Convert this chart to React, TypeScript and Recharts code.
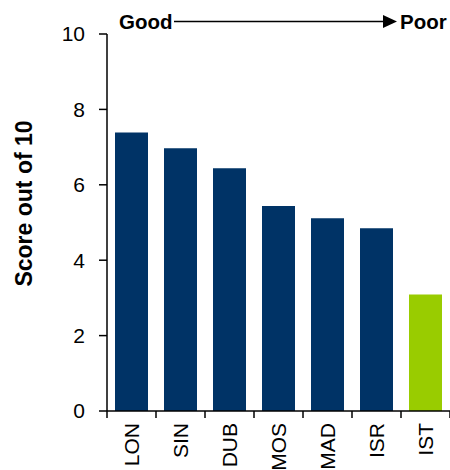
import React from "react";
import { BarChart, Bar, XAxis, YAxis, Cell } from "recharts";

const WIDTH = 450;
const HEIGHT = 470;
const FONT = "'Liberation Sans', Arial, sans-serif";

const CITIES = ["LON", "SIN", "DUB", "MOS", "MAD", "ISR", "IST"];
const SCORES = [7.39, 6.97, 6.44, 5.44, 5.11, 4.85, 3.09];
const Y_TICKS = [0, 2, 4, 6, 8, 10];

const NAVY = "#003366";
const GREEN = "#99cc00";
const HIGHLIGHT = "IST";

const data = CITIES.map((city, i) => ({ city, score: SCORES[i] }));

// tick lines sit between categories, not under the middle of each bar
function CityTick(props: any) {
  const { x, y, payload, index, visibleTicksCount } = props;
  const half = payload?.offset ?? 24.5;
  const last = index === (visibleTicksCount ?? CITIES.length) - 1;
  return (
    <g>
      <line x1={x - half} x2={x - half} y1={y} y2={y + 7} stroke="#000" strokeWidth={1.5} />
      {last && <line x1={x + half} x2={x + half} y1={y} y2={y + 7} stroke="#000" strokeWidth={1.5} />}
      <text
        x={x}
        y={y + 12}
        dy="0.36em"
        transform={`rotate(-90 ${x} ${y + 12})`}
        textAnchor="end"
        fontSize={21}
        fontFamily={FONT}
        fill="#000"
      >
        {payload.value}
      </text>
    </g>
  );
}

// the title sits a bit above the middle of the axis in the original
function ScoreLabel(props: any) {
  const { viewBox } = props;
  const cx = viewBox.x + 24;
  const cy = viewBox.y + viewBox.height / 2 - 19;
  return (
    <text
      x={cx}
      y={cy}
      dy="0.36em"
      transform={`rotate(-90 ${cx} ${cy})`}
      textAnchor="middle"
      fontSize={23}
      fontWeight="bold"
      fontFamily={FONT}
      fill="#000"
    >
      Score out of 10
    </text>
  );
}

function GoodPoorArrow() {
  return (
    <svg
      width={WIDTH}
      height={40}
      style={{ position: "absolute", left: 0, top: 0, pointerEvents: "none" }}
    >
      <text x={119} y={28.5} fontSize={20.5} fontWeight="bold" fontFamily={FONT} fill="#000">
        Good
      </text>
      <line x1={174} x2={384} y1={21.5} y2={21.5} stroke="#000" strokeWidth={1.5} />
      <polygon points="383,15 397,21.5 383,28" fill="#000" />
      <text x={400} y={28.5} fontSize={20.5} fontWeight="bold" fontFamily={FONT} fill="#000">
        Poor
      </text>
    </svg>
  );
}

export default function App() {
  return (
    <div
      style={{
        position: "fixed",
        left: 0,
        top: 0,
        width: WIDTH,
        height: HEIGHT,
        background: "#fff",
        fontFamily: FONT,
        overflow: "hidden",
      }}
    >
      <BarChart
        width={WIDTH}
        height={HEIGHT}
        data={data}
        margin={{ top: 34, right: 0, bottom: 0, left: 0 }}
        barCategoryGap={8}
      >
        <XAxis
          dataKey="city"
          height={59}
          interval={0}
          axisLine={{ stroke: "#000", strokeWidth: 1.5 }}
          tickLine={false}
          tickSize={0}
          tickMargin={0}
          tick={<CityTick />}
        />
        <YAxis
          width={107}
          domain={[0, 10]}
          ticks={Y_TICKS}
          interval={0}
          axisLine={{ stroke: "#000", strokeWidth: 1.5 }}
          tickLine={{ stroke: "#000", strokeWidth: 1.5 }}
          tickSize={8}
          tickMargin={14}
          tick={{ fontSize: 21, fill: "#000", fontFamily: FONT }}
          label={<ScoreLabel />}
        />
        <Bar dataKey="score" isAnimationActive={false}>
          {data.map((d) => (
            <Cell key={d.city} fill={d.city === HIGHLIGHT ? GREEN : NAVY} />
          ))}
        </Bar>
      </BarChart>
      <GoodPoorArrow />
    </div>
  );
}
